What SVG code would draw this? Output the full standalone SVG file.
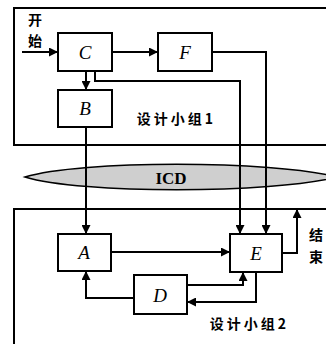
<svg xmlns="http://www.w3.org/2000/svg" width="326" height="344" viewBox="0 0 326 344">
<style>
.box{fill:#fff;stroke:#000;stroke-width:2}
.frame{fill:none;stroke:#000;stroke-width:2}
.ln{fill:none;stroke:#000;stroke-width:2}
.lbl{font-family:"Liberation Serif",serif;font-style:italic;font-size:19px;text-anchor:middle;dominant-baseline:central}
.cn{font-family:"Noto Sans CJK SC",sans-serif;font-weight:bold;font-size:14px;dominant-baseline:central}
</style>
<defs>
<marker id="ah" viewBox="0 0 10 10" refX="10" refY="5" markerWidth="9" markerHeight="9" markerUnits="userSpaceOnUse" orient="auto">
<path d="M0,0 L10,5 L0,10 z" fill="#000"/>
</marker>
</defs>
<rect width="326" height="344" fill="#fff"/>
<g id="group1">
<rect class="frame" x="14" y="8" width="330" height="137"/>
<text class="cn" x="216" y="118" text-anchor="end" letter-spacing="3">设计小组1</text>
</g>
<g id="group2">
<rect class="frame" x="14" y="209" width="330" height="150"/>
<text class="cn" x="289" y="323" text-anchor="end" letter-spacing="3">设计小组2</text>
</g>
<g id="icd">
<path d="M25,177 C80,160 270,160 338,177 C270,194 80,194 25,177 Z" fill="#cfcfcf" stroke="#000" stroke-width="1.5"/>
<text x="171" y="178" font-family="Liberation Serif,serif" font-weight="bold" font-size="17" text-anchor="middle" dominant-baseline="central">ICD</text>
</g>
<g id="connectors">
<path class="ln" d="M22,52 H58" marker-end="url(#ah)"/>
<path class="ln" d="M112,52 H158" marker-end="url(#ah)"/>
<path class="ln" d="M86,71 V90" marker-end="url(#ah)"/>
<path class="ln" d="M95,71 V81 H240 V234" marker-end="url(#ah)"/>
<path class="ln" d="M212,52 H266 V234" marker-end="url(#ah)"/>
<path class="ln" d="M86,127 V234" marker-end="url(#ah)"/>
<path class="ln" d="M111,252 H230" marker-end="url(#ah)"/>
<path class="ln" d="M134,298 H86 V271" marker-end="url(#ah)"/>
<path class="ln" d="M187,285 H243 V272" marker-end="url(#ah)"/>
<path class="ln" d="M256,272 V302 H187" marker-end="url(#ah)"/>
<path class="ln" d="M282,253 H297 V209" marker-end="url(#ah)"/>
</g>
<g id="start">
<text class="cn" x="35" y="19" text-anchor="middle">开</text>
<text class="cn" x="35" y="40" text-anchor="middle">始</text>
</g>
<g id="end">
<text class="cn" x="316" y="234" text-anchor="middle">结</text>
<text class="cn" x="316" y="256" text-anchor="middle">束</text>
</g>
<g id="C"><rect class="box" x="58" y="33" width="54" height="38"/><text class="lbl" x="85" y="52">C</text></g>
<g id="F"><rect class="box" x="158" y="33" width="54" height="38"/><text class="lbl" x="185" y="52">F</text></g>
<g id="B"><rect class="box" x="58" y="90" width="54" height="37"/><text class="lbl" x="85" y="108">B</text></g>
<g id="A"><rect class="box" x="58" y="234" width="53" height="37"/><text class="lbl" x="84" y="252">A</text></g>
<g id="E"><rect class="box" x="230" y="234" width="52" height="38"/><text class="lbl" x="256" y="253">E</text></g>
<g id="D"><rect class="box" x="134" y="275" width="53" height="39"/><text class="lbl" x="160" y="295">D</text></g>
</svg>
